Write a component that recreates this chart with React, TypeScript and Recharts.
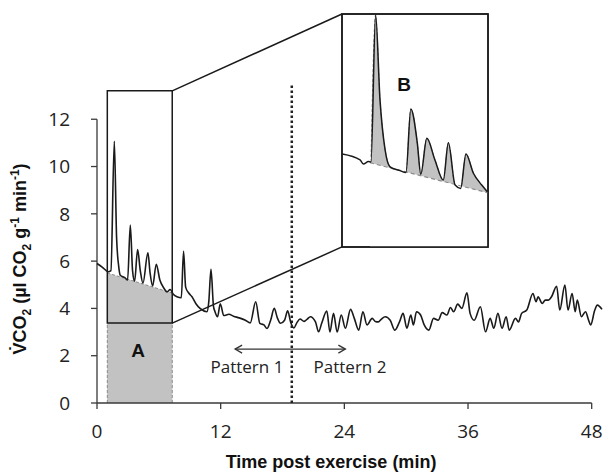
import {
  ComposedChart,
  Line,
  Area,
  XAxis,
  YAxis,
  ReferenceLine,
  ReferenceArea,
  ReferenceDot,
} from "recharts";

// VCO2 trace (minutes, µl CO2 g-1 min-1)
const times = [
  0, 0.5, 1.1, 1.35, 1.68, 1.9, 2.1, 2.26, 2.7, 2.97, 3.23, 3.45, 3.65, 3.94,
  4.2, 4.46, 4.94, 5.15, 5.4, 5.75, 6.1, 6.5, 6.79, 7.1, 7.4, 7.76, 8.18, 8.4,
  8.6, 8.9, 9.2, 9.6, 10.0, 10.67, 10.85, 11.06, 11.3, 11.45, 11.7, 11.96, 12.3,
  12.8, 13.25, 13.8, 14.4, 14.87, 15.4, 15.8, 16.2, 16.5, 16.85, 17.2, 17.5,
  17.8, 18.2, 18.5, 18.8, 19.1, 19.4, 19.7, 20.1, 20.4, 20.7, 21.2, 21.5, 21.8,
  22.3, 22.6, 22.95, 23.3, 23.7, 24.1, 24.6, 24.95, 25.4, 25.8, 26.2, 26.7, 27.0,
  27.3, 27.6, 27.96, 28.45, 28.9, 29.35, 29.7, 30.07, 30.45, 30.7, 31.0, 31.4,
  31.75, 32.2, 32.65, 33.1, 33.5, 33.95, 34.3, 34.6, 35.0, 35.4, 35.9, 36.2,
  36.6, 37.2, 37.7, 38.15, 38.5, 38.9, 39.3, 39.7, 40.0, 40.6, 40.9, 41.2, 41.7,
  42.3, 42.6, 42.8, 43.2, 43.5, 43.8, 44.1, 44.6, 44.9, 45.4, 45.7, 46.1, 46.4,
  46.6, 47.0, 47.4, 47.7, 47.9, 48.3, 48.55, 49.0,
];
const vco2 = [
  5.9, 5.75, 5.55, 5.6, 11.07, 7.0, 5.8, 5.4, 5.3, 5.2, 7.52, 5.6, 5.15, 6.49,
  5.6, 5.07, 6.35, 5.5, 4.95, 5.87, 5.2, 4.85, 4.7, 4.8, 4.6, 4.49, 4.45, 6.42,
  4.9, 4.65, 4.5, 4.2, 4.0, 3.86, 4.3, 5.65, 4.1, 3.86, 3.65, 4.2, 3.7, 3.75,
  3.67, 3.6, 3.5, 3.39, 4.28, 3.37, 3.3, 3.15, 3.5, 4.0, 3.6, 3.37, 3.5, 3.9,
  3.4, 3.17, 3.4, 3.55, 3.45, 3.55, 3.65, 3.43, 3.01, 3.37, 3.89, 3.0, 3.79, 3.0,
  3.72, 3.16, 3.96, 3.6, 3.08, 3.86, 3.3, 3.58, 3.45, 3.43, 3.55, 3.65, 3.5,
  3.08, 3.43, 3.79, 3.16, 3.72, 3.3, 3.86, 3.72, 3.3, 3.08, 3.58, 3.5, 3.82,
  3.72, 4.04, 3.86, 4.18, 4.0, 4.66, 3.79, 3.5, 4.07, 3.01, 3.58, 3.16, 3.79,
  3.16, 3.65, 3.08, 3.58, 3.43, 3.79, 3.93, 4.63, 4.28, 4.49, 4.21, 4.35, 4.35,
  4.49, 4.94, 3.93, 4.99, 3.93, 4.63, 3.86, 4.35, 3.65, 3.86, 3.5, 3.3, 3.93,
  4.14, 3.96,
];

const xTicks = [0, 12, 24, 36, 48];
const yTicks = [0, 2, 4, 6, 8, 10, 12];

// dashed baseline under the first peaks (area A)
const baseTimes = [1, 7.3];
const baseValues = [5.5, 4.65];

// magnified view (B) of the first minutes
const insetTimes = [
  1.01, 1.78, 1.92, 2.14, 2.25, 2.45, 2.64, 2.86, 3.07, 3.5, 3.76, 3.97, 4.25,
  4.4, 4.66, 5.01, 5.37, 5.59, 5.88, 6.12, 6.35, 6.67, 7.03, 7.27,
];
const insetValues = [
  7.3, 7.05, 6.88, 6.98, 6.96, 13.16, 9.58, 7.47, 6.76, 6.6, 6.52, 9.2, 7.76,
  6.45, 7.96, 7.05, 6.2, 7.77, 5.99, 5.85, 7.3, 6.49, 5.99, 5.71,
];
const insetShadeFrom = 4;
const insetBaseTimes = [2.21, 7.27];
const insetBaseValues = [6.93, 5.67];

const boxA = { x1: 1, x2: 7.3, y1: 3.38, y2: 13.2 };
const boxB = { x1: 23.77, x2: 37.94, y1: 6.6, y2: 16.45 };
const patternSplit = 18.9;
const patternArrow = { from: 13.4, to: 24.1, y: 2.28 };

const trace = times.map((t, i) => ({ t, v: vco2[i] }));
const baseline = baseTimes.map((t, i) => ({ t, b: baseValues[i] }));
const inset = insetTimes.map((t, i) => ({ t, v: insetValues[i] }));
const insetShade = inset.slice(insetShadeFrom);
const insetBase = insetBaseTimes.map((t, i) => ({ t, b: insetBaseValues[i] }));

const ink = "#1a1a1a";
const axisInk = "#3a3a3a";
const grey = "#c2c2c2";
const greyEdge = "#8c8c8c";
const tickFont = { fontSize: 19, fill: "#222", fontFamily: "Open Sans" };
const boldFont = "Liberation Sans, Arial, sans-serif";

const DoubleArrow = (p: any) => {
  const { x1, y1, x2, y2 } = p;
  return (
    <g stroke="#333" strokeWidth={1.3} fill="none">
      <line x1={x1} y1={y1} x2={x2} y2={y2} />
      <path d={`M${x1 + 7},${y1 - 4} L${x1},${y1} L${x1 + 7},${y1 + 4}`} />
      <path d={`M${x2 - 7},${y2 - 4} L${x2},${y2} L${x2 - 7},${y2 + 4}`} />
    </g>
  );
};

const YTitle = () => (
  <text
    transform="translate(26,259) rotate(-90)"
    textAnchor="middle"
    fontFamily={boldFont}
    fontWeight={700}
    fontSize={18}
    fill="#111"
  >
    V̇CO<tspan fontSize={12} dy={5}>2</tspan>
    <tspan dy={-5}> (µl CO</tspan>
    <tspan fontSize={12} dy={5}>2</tspan>
    <tspan dy={-5}> g</tspan>
    <tspan fontSize={12} dy={-7}>-1</tspan>
    <tspan dy={7}> min</tspan>
    <tspan fontSize={12} dy={-7}>-1</tspan>
    <tspan dy={7}>)</tspan>
  </text>
);

const XTitle = () => (
  <text
    x={331}
    y={468}
    textAnchor="middle"
    fontFamily={boldFont}
    fontWeight={700}
    fontSize={18}
    fill="#111"
  >
    Time post exercise (min)
  </text>
);

const patternLabel = { position: "center" as const, fontSize: 17, fill: "#222", fontFamily: "Open Sans" };
const letterLabel = { position: "center" as const, fontSize: 19, fontWeight: 700, fill: "#111", fontFamily: boldFont };

export default function App() {
  return (
    <div
      style={{
        position: "absolute",
        left: 0,
        top: 0,
        width: 610,
        height: 476,
        background: "#fff",
        fontFamily: "Open Sans, sans-serif",
      }}
    >
      <ComposedChart
        width={610}
        height={476}
        margin={{ top: 1, right: 8, bottom: 43, left: 37 }}
      >
        <XAxis
          type="number"
          dataKey="t"
          domain={[0, 49]}
          ticks={xTicks}
          axisLine={false}
          tickLine={{ stroke: axisInk, strokeWidth: 1.3 }}
          tickSize={6}
          tickMargin={16}
          tick={tickFont}
          height={30}
          label={XTitle}
        />
        <YAxis
          type="number"
          domain={[0, 17]}
          ticks={yTicks}
          axisLine={false}
          tickLine={{ stroke: axisInk, strokeWidth: 1.3 }}
          tickSize={6}
          tickMargin={21}
          tick={tickFont}
          width={60}
          label={YTitle}
        />

        <ReferenceArea
          x1={boxA.x1}
          x2={boxA.x2}
          y1={0}
          y2={boxA.y1}
          fill={grey}
          fillOpacity={1}
          stroke="none"
        />
        <Area
          data={baseline}
          dataKey="b"
          type="linear"
          fill={grey}
          fillOpacity={1}
          stroke={greyEdge}
          strokeDasharray="3 2"
          strokeWidth={1}
          isAnimationActive={false}
        />
        <ReferenceLine
          segment={[{ x: boxA.x1, y: 0 }, { x: boxA.x1, y: boxA.y1 }]}
          stroke={greyEdge}
          strokeDasharray="3 2"
        />
        <ReferenceLine
          segment={[{ x: boxA.x2, y: 0 }, { x: boxA.x2, y: boxA.y1 }]}
          stroke={greyEdge}
          strokeDasharray="3 2"
        />

        {/* axis lines, drawn only over the labelled range */}
        <ReferenceLine
          segment={[{ x: 0, y: 0 }, { x: 48, y: 0 }]}
          stroke={axisInk}
          strokeWidth={1.3}
        />
        <ReferenceLine
          segment={[{ x: 0, y: 0 }, { x: 0, y: 12 }]}
          stroke={axisInk}
          strokeWidth={1.3}
        />

        <ReferenceLine
          segment={[{ x: patternSplit, y: 0 }, { x: patternSplit, y: 13.45 }]}
          stroke="#222"
          strokeWidth={2.5}
          strokeDasharray="2.5 2.5"
        />

        <ReferenceArea
          x1={boxA.x1}
          x2={boxA.x2}
          y1={boxA.y1}
          y2={boxA.y2}
          fill="none"
          stroke={ink}
          strokeWidth={1.5}
        />
        <ReferenceArea
          x1={boxB.x1}
          x2={boxB.x2}
          y1={boxB.y1}
          y2={boxB.y2}
          fill="#fff"
          fillOpacity={1}
          stroke={ink}
          strokeWidth={1.5}
        />
        <ReferenceLine
          segment={[{ x: boxA.x2, y: boxA.y2 }, { x: boxB.x1, y: boxB.y2 }]}
          stroke={ink}
          strokeWidth={1.5}
        />
        <ReferenceLine
          segment={[{ x: boxA.x2, y: boxA.y1 }, { x: boxB.x1, y: boxB.y1 }]}
          stroke={ink}
          strokeWidth={1.5}
        />

        <ReferenceLine
          segment={[
            { x: patternArrow.from, y: patternArrow.y },
            { x: patternArrow.to, y: patternArrow.y },
          ]}
          shape={DoubleArrow}
        />
        <ReferenceDot x={14.55} y={1.52} r={0} fill="none" stroke="none" label={{ value: "Pattern 1", ...patternLabel }} />
        <ReferenceDot x={24.55} y={1.52} r={0} fill="none" stroke="none" label={{ value: "Pattern 2", ...patternLabel }} />
        <ReferenceDot x={4.0} y={2.25} r={0} fill="none" stroke="none" label={{ value: "A", ...letterLabel }} />

        <Line
          data={trace}
          dataKey="v"
          type="monotone"
          stroke={ink}
          strokeWidth={1.6}
          dot={false}
          isAnimationActive={false}
        />
      </ComposedChart>

      <div style={{ position: "absolute", left: 340, top: 12 }}>
        <ComposedChart
          width={150}
          height={237}
          margin={{ top: 2, right: 2, bottom: 2, left: 2 }}
        >
          <XAxis type="number" dataKey="t" domain={[1, 7.3]} hide />
          <YAxis type="number" domain={[3.38, 13.2]} hide />
          <Area
            data={insetShade}
            dataKey="v"
            type="monotone"
            fill={grey}
            fillOpacity={1}
            stroke={greyEdge}
            strokeDasharray="3 2"
            isAnimationActive={false}
          />
          <Area
            data={insetBase}
            dataKey="b"
            type="linear"
            fill="#fff"
            fillOpacity={1}
            stroke="none"
            isAnimationActive={false}
          />
          <Line
            data={insetBase}
            dataKey="b"
            type="linear"
            stroke={greyEdge}
            strokeDasharray="4 3"
            strokeWidth={1.2}
            dot={false}
            isAnimationActive={false}
          />
          <Line
            data={inset}
            dataKey="v"
            type="monotone"
            stroke={ink}
            strokeWidth={1.5}
            dot={false}
            isAnimationActive={false}
          />
          <ReferenceArea
            x1={1}
            x2={7.3}
            y1={3.38}
            y2={13.2}
            fill="none"
            stroke={ink}
            strokeWidth={1.5}
          />
          <ReferenceDot x={3.68} y={10.26} r={0} fill="none" stroke="none" label={{ value: "B", ...letterLabel }} />
        </ComposedChart>
      </div>
    </div>
  );
}
